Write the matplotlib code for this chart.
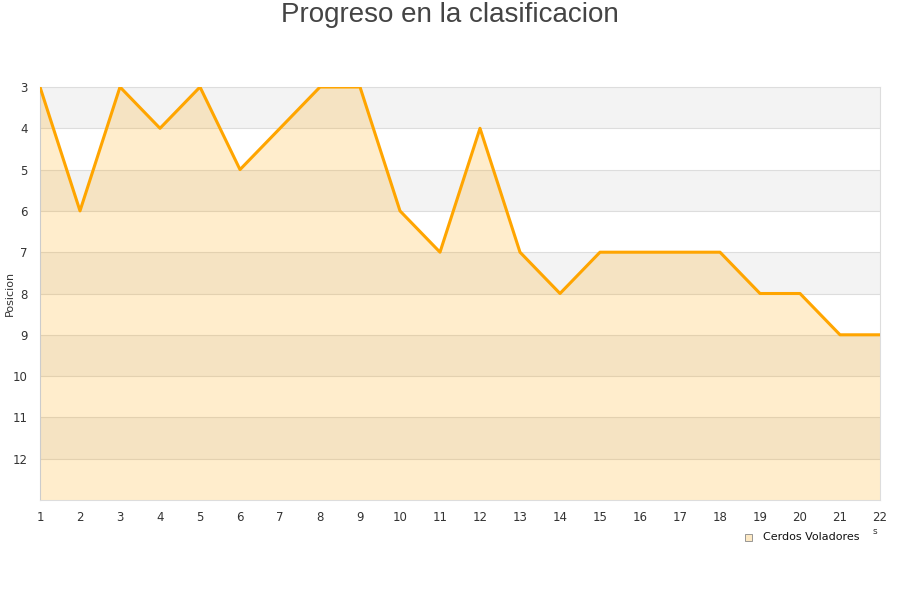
import numpy as np
import matplotlib.pyplot as plt

# datos de la clasificacion
jornadas = list(range(1, 23))
posicion = [3, 6, 3, 4, 3, 5, 4, 3, 3, 6, 7, 4, 7, 8, 7, 7, 7, 7, 8, 8, 9, 9]
equipo = 'Cerdos Voladores'
y_ticks = list(range(3, 13))

fig = plt.figure(figsize=(9, 6), dpi=100)
ax = fig.add_axes([40 / 900, 1 - 500 / 600, 840 / 900, 413 / 600])

# bandas alternas
for y0 in range(3, 13):
    color = '#f3f3f3' if (y0 - 3) % 2 == 0 else 'white'
    ax.axhspan(y0, y0 + 1, color=color, zorder=0, lw=0)
for y0 in range(4, 13):
    ax.axhline(y0, color='#dddddd', lw=0.8, zorder=1)

# area y linea
ax.fill_between(jornadas, posicion, 13, color='#ffa500', alpha=0.2, lw=0, zorder=2)
ax.plot(jornadas, posicion, color='#ffa500', lw=2.2, zorder=3)

ax.set_xlim(1, 22)
ax.set_ylim(13, 3)
ax.set_xticks(jornadas)
ax.set_yticks(y_ticks)
ax.tick_params(length=0, labelsize=8.5, colors='#333333', pad=8)
ax.tick_params(axis='y', pad=9)
for s in ax.spines.values():
    s.set_color('#dddddd')
    s.set_linewidth(0.8)
ax.spines['left'].set_color('#cccccc')

ax.set_ylabel('Posicion', fontsize=8, color='#333333', va='center')
ax.yaxis.set_label_coords(-30 / 840, 0.5)
fig.text(0.5, 1 - 15 / 600, 'Progreso en la clasificacion', ha='center', va='center',
         fontsize=20, color='#444444', family='Liberation Sans')

# leyenda
fig.patches.append(plt.Rectangle((745 / 900, 1 - 541 / 600), 7 / 900, 7 / 600,
                                 transform=fig.transFigure, facecolor='#fde9c4',
                                 edgecolor='#888888', lw=0.6))
fig.text(763 / 900, 1 - 537 / 600, equipo, fontsize=8, va='center', color='#111111')
fig.text(875 / 900, 1 - 531 / 600, 's', fontsize=6.5, va='center', ha='center', color='#333333')

fig.savefig('out.png', dpi=100)
